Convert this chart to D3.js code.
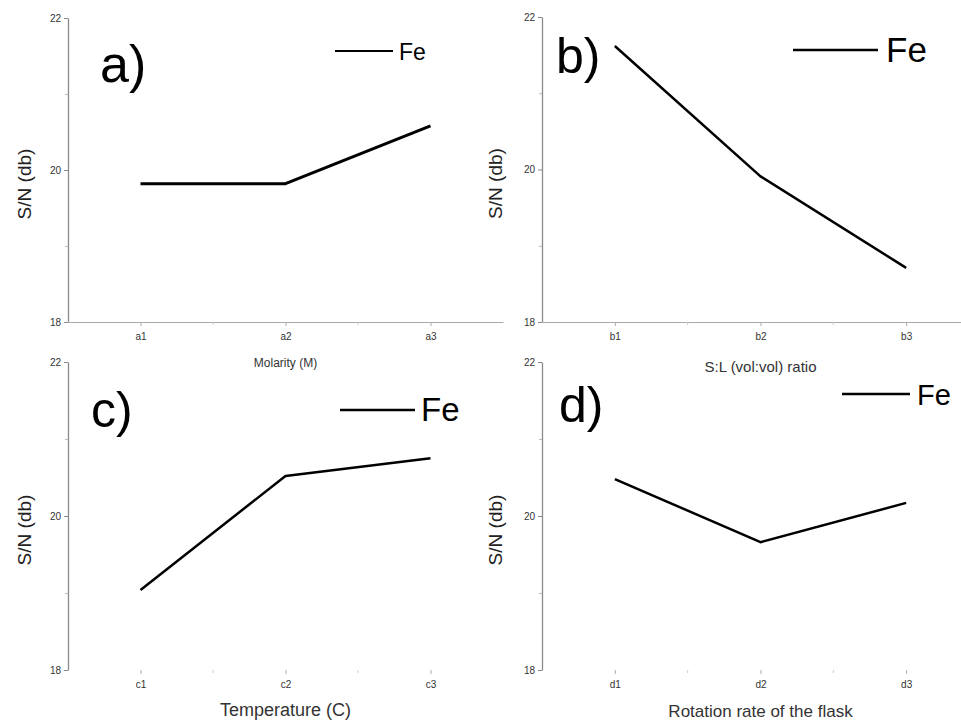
<!DOCTYPE html>
<html>
<head>
<meta charset="utf-8">
<script src="https://cdn.jsdelivr.net/npm/d3@7"></script>
<style>
  html, body { margin: 0; padding: 0; background: #fff; }
  svg { display: block; font-family: "Liberation Sans", Arial, sans-serif; }
</style>
</head>
<body>
<div id="chart"></div>
<script>
// data
const panelLabels = ["a)", "b)", "c)", "d)"];
const catsA = ["a1", "a2", "a3"];
const catsB = ["b1", "b2", "b3"];
const catsC = ["c1", "c2", "c3"];
const catsD = ["d1", "d2", "d3"];
const valsA = [19.82, 19.82, 20.58];
const valsB = [21.62, 19.91, 18.71];
const valsC = [19.04, 20.52, 20.75];
const valsD = [20.48, 19.66, 20.17];
const xTitles = ["Molarity (M)", "S:L (vol:vol) ratio", "Temperature (C)", "Rotation rate of the flask"];
const yTitle = "S/N (db)";
const yTicks = [18, 20, 22];
const yMinorTicks = [19, 21];
const seriesName = "Fe";

const W = 961, H = 724;
const svg = d3.select("#chart").append("svg").attr("width", W).attr("height", H);

// layout of each panel (pixel boxes + text styles)
const panels = [
  { cats: catsA, vals: valsA, left: 68, right: 503, top: 18, bottom: 322, xLine: true,
    lab: { x: 100, y: 82, size: 52 }, leg: { x1: 335, x2: 393, y: 51, tx: 399, ty: 60, size: 23, lw: 2 },
    xt: { y: 367, size: 12 }, ytx: 31, lineW: 3 },
  { cats: catsB, vals: valsB, left: 542, right: 979, top: 17, bottom: 322, xLine: true,
    lab: { x: 556, y: 73, size: 50 }, leg: { x1: 793, x2: 878, y: 50, tx: 886, ty: 62, size: 35, lw: 2.5 },
    xt: { y: 372, size: 15 }, ytx: 502, lineW: 2.5 },
  { cats: catsC, vals: valsC, left: 68, right: 503, top: 362, bottom: 670, xLine: false,
    lab: { x: 91, y: 427, size: 50 }, leg: { x1: 340, x2: 415, y: 410, tx: 421, ty: 421, size: 33, lw: 2.5 },
    xt: { y: 716, size: 18 }, ytx: 31, lineW: 2.5 },
  { cats: catsD, vals: valsD, left: 542, right: 979, top: 362, bottom: 670, xLine: false,
    lab: { x: 559, y: 422, size: 50 }, leg: { x1: 842, x2: 910, y: 394, tx: 917, ty: 405, size: 29, lw: 2.5 },
    xt: { y: 717, size: 17 }, ytx: 502, lineW: 2.5 }
];

const axisColor = "#8a8a8a";
const textColor = "#333";

panels.forEach((p, i) => {
  const g = svg.append("g");
  const x = d3.scalePoint().domain(p.cats).range([p.left, p.right]).padding(0.5);
  const y = d3.scaleLinear().domain([18, 22]).range([p.bottom, p.top]);

  // y axis
  const yAxis = d3.axisLeft(y).tickValues(yTicks).tickFormat(d3.format("d"))
    .tickSize(4).tickSizeOuter(0).tickPadding(3);
  const ya = g.append("g").attr("transform", `translate(${p.left},0)`).call(yAxis);
  ya.select(".domain").attr("stroke", axisColor).attr("stroke-width", 1.3);
  ya.selectAll(".tick line").attr("stroke", axisColor);
  ya.selectAll(".tick text").attr("fill", textColor).style("font-size", "10px");
  g.append("g").attr("transform", `translate(${p.left},0)`)
    .call(d3.axisLeft(y).tickValues(yMinorTicks).tickSize(3).tickFormat(""))
    .call(s => s.select(".domain").remove())
    .selectAll(".tick line").attr("stroke", "#bbb");

  // x axis
  const xAxis = d3.axisBottom(x).tickSize(4).tickSizeOuter(0).tickPadding(7);
  const xa = g.append("g").attr("transform", `translate(0,${p.bottom})`).call(xAxis);
  if (p.xLine) {
    xa.select(".domain").attr("stroke", "#aaa").attr("stroke-width", 1.2);
  } else {
    xa.select(".domain").remove();
  }
  xa.selectAll(".tick line").attr("stroke", "#aaa");
  xa.selectAll(".tick text").attr("fill", textColor).style("font-size", "10px");
  // minor x ticks between categories
  const mids = d3.pairs(p.cats).map(([a, b]) => (x(a) + x(b)) / 2);
  g.selectAll(".xminor").data(mids).enter().append("line")
    .attr("x1", d => d).attr("x2", d => d)
    .attr("y1", p.bottom).attr("y2", p.bottom + 3)
    .attr("stroke", "#ccc");

  // axis titles
  g.append("text").attr("x", x(p.cats[1])).attr("y", p.xt.y)
    .attr("text-anchor", "middle").attr("fill", textColor)
    .style("font-size", p.xt.size + "px").text(xTitles[i]);
  g.append("text")
    .attr("transform", `translate(${p.ytx},${y(20) + 14}) rotate(-90)`)
    .attr("text-anchor", "middle").attr("fill", "#222")
    .style("font-size", "19px").text(yTitle);

  // data line
  const data = p.cats.map((c, k) => ({ c, v: p.vals[k] }));
  g.append("path").datum(data)
    .attr("d", d3.line().x(d => x(d.c)).y(d => y(d.v)))
    .attr("fill", "none").attr("stroke", "#000")
    .attr("stroke-width", p.lineW).attr("stroke-linejoin", "round");

  // panel label
  g.append("text").attr("x", p.lab.x).attr("y", p.lab.y)
    .attr("fill", "#000").style("font-size", p.lab.size + "px").text(panelLabels[i]);

  // legend
  g.append("line").attr("x1", p.leg.x1).attr("x2", p.leg.x2)
    .attr("y1", p.leg.y).attr("y2", p.leg.y)
    .attr("stroke", "#000").attr("stroke-width", p.leg.lw);
  g.append("text").attr("x", p.leg.tx).attr("y", p.leg.ty)
    .attr("fill", "#000").style("font-size", p.leg.size + "px").text(seriesName);
});
</script>
</body>
</html>
